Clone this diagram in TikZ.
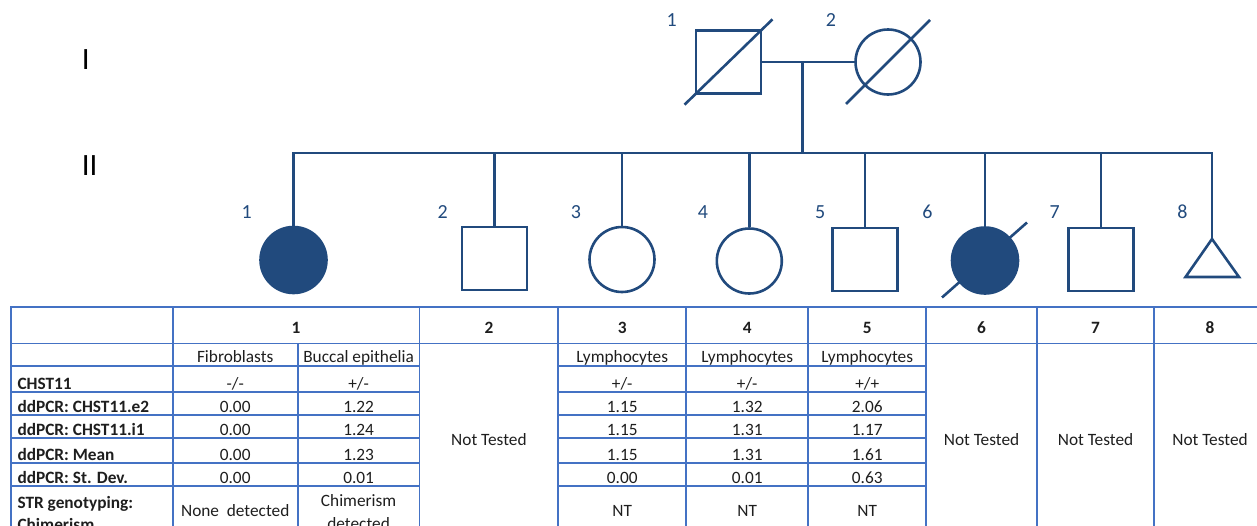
\documentclass[tikz,border=0pt]{standalone}
\usepackage{fontspec}
\setmainfont{Carlito}
\usetikzlibrary{calc}
\definecolor{pedblue}{RGB}{33,74,125}
\definecolor{gridblue}{RGB}{68,114,196}
\definecolor{ink}{RGB}{30,30,30}

\begin{document}
\begin{tikzpicture}[x=1pt,y=-1pt,
  ped/.style={draw=pedblue, line width=2.6pt},
  male/.style={ped, rectangle, minimum width=65pt, minimum height=63pt, inner sep=0pt},
  female/.style={ped, circle, minimum size=65pt, inner sep=0pt},
  affected/.style={fill=pedblue},
  pedlabel/.style={text=pedblue, font=\fontsize{20}{24}\selectfont, anchor=base, inner sep=0pt},
  gen/.style={text=black, font=\fontsize{31}{36}\selectfont, anchor=base, inner sep=0pt},
  grid/.style={draw=gridblue, line width=1.8pt},
  cell/.style={text=ink, font=\fontsize{17.3}{22}\selectfont, anchor=base, inner sep=0pt},
  rowhead/.style={text=ink, font=\fontsize{17.3}{22}\selectfont\bfseries, anchor=base west, inner sep=0pt},
  colhead/.style={text=ink, font=\fontsize{17.3}{22}\selectfont\bfseries, anchor=base, inner sep=0pt},
]
\useasboundingbox (0,0) rectangle (1257,525);
\clip (0,0) rectangle (1257,525);

% generation numerals
\node[gen] (genI) at (85.7,69) {I};
\node[gen] (genII) at (89.7,175.7) {II};

% generation I
\node[male] (i1) at (728.5,62) {};
\node[female] (i2) at (888,62) {};
\draw[ped] ($(i1.south west)!-0.15!(i1.north east)$) -- ($(i1.north east)!-0.15!(i1.south west)$);
\draw[ped] ($(i2.center)+(-42,42)$) -- ($(i2.center)+(42,-42)$);
\node[pedlabel] (li1) at (671.7,26.7) {1};
\node[pedlabel] (li2) at (831,26.7) {2};

\draw[ped] (i1.east) -- (i2.west);
\coordinate (mate) at (802.5,62);
\coordinate (sib) at (802.5,153);
\draw[ped] (mate) -- (sib);

% generation II
\node[female, affected, minimum size=66pt] (ii1) at (293.5,260) {};
\node[male] (ii2) at (494.5,258.5) {};
\node[female] (ii3) at (622,259.5) {};
\node[female] (ii4) at (749.3,261) {};
\node[male] (ii5) at (865,259.5) {};
\node[female, affected, minimum size=66pt] (ii6) at (985,260.5) {};
\node[male] (ii7) at (1101,259.5) {};
\coordinate (ii8) at (1212,239);
\coordinate (ii8r) at (1239,277);
\coordinate (ii8l) at (1185.5,277);
\draw[ped] (ii8) -- (ii8r) -- (ii8l) -- cycle;
\draw[ped] ($(ii6.center)+(-43,37)$) -- ($(ii6.center)+(42,-38)$);

% sibship line
\draw[ped] (ii1.north) -- (ii1.north |- sib) -- (ii8 |- sib) -- (ii8);
\foreach \n in {ii2,ii3,ii4,ii5,ii6,ii7}
  \draw[ped] (\n.north) -- (\n.north |- sib);

\foreach \x/\t in {246.7/1,442.7/2,576/3,703/4,820.3/5,927.4/6,1054.6/7,1182.5/8}
  \node[pedlabel] (lii\t) at (\x,218.3) {\t};

% table grid
\draw[grid] (11,560) -- (11,307.3) -- (1266,307.3);
\draw[grid] (11,343.5) -- (1266,343.5);
\foreach \x in {172.7,419.5,558.3,686,808.3,926,1037,1154,1266}
  \draw[grid] (\x,307.3) -- (\x,560);
\draw[grid] (297.7,343.5) -- (297.7,560);
\foreach \y in {366,392.3,415,437.8,463,485.7} {
  \draw[grid] (11,\y) -- (419.5,\y);
  \draw[grid] (558.3,\y) -- (926,\y);
}

% column headings
\foreach \x/\t in {296.1/1,488.9/2,622.2/3,747.2/4,867.2/5,981.5/6,1095.5/7,1210/8}
  \node[colhead] (h\t) at (\x,333.5) {\t};

% sample types
\node[cell] (s1a) at (235.2,362.5) {Fibroblasts};
\node[cell] (s1b) at (358.6,362.5) {Buccal epithelia};
\node[cell] (s3) at (622.2,362.5) {Lymphocytes};
\node[cell] (s4) at (747.2,362.5) {Lymphocytes};
\node[cell] (s5) at (867.2,362.5) {Lymphocytes};

% genotype row
\node[rowhead] (rg) at (17.3,389) {CHST11};
\node[cell] (g1a) at (235.2,389) {-/-};
\node[cell] (g1b) at (358.6,389) {+/-};
\node[cell] (g3) at (622.2,389) {+/-};
\node[cell] (g4) at (747.2,389) {+/-};
\node[cell] (g5) at (867.2,389) {+/+};

% ddPCR rows
\foreach \yb/\nm/\lab/\a/\b/\c/\d/\e in {
  412.5/e/{ddPCR: CHST11.e2}/0.00/1.22/1.15/1.32/2.06,
  435.5/i/{ddPCR: CHST11.i1}/0.00/1.24/1.15/1.31/1.17,
  460/m/{ddPCR: Mean}/0.00/1.23/1.15/1.31/1.61,
  483/s/{ddPCR: St. Dev.}/0.00/0.01/0.00/0.01/0.63} {
  \node[rowhead] (r\nm) at (17.3,\yb) {\lab};
  \node[cell] (\nm1a) at (235.2,\yb) {\a};
  \node[cell] (\nm1b) at (358.6,\yb) {\b};
  \node[cell] (\nm3) at (622.2,\yb) {\c};
  \node[cell] (\nm4) at (747.2,\yb) {\d};
  \node[cell] (\nm5) at (867.2,\yb) {\e};
}

% STR row
\node[rowhead] (rstr) at (17.3,508) {STR genotyping:};
\node[rowhead] (rstrb) at (17.3,530.5) {Chimerism};
\node[cell] (t1a) at (235.2,516.5) {None\ \ detected};
\node[cell] (t1b) at (358.6,506.5) {Chimerism};
\node[cell] (t1c) at (358.6,529.5) {detected};
\node[cell] (t3) at (622.2,516.5) {NT};
\node[cell] (t4) at (747.2,516.5) {NT};
\node[cell] (t5) at (867.2,516.5) {NT};

% merged cells
\foreach \x/\t in {488.9/2,981.5/6,1095.5/7,1210/8}
  \node[cell] (nt\t) at (\x,445) {Not Tested};
\end{tikzpicture}
\end{document}
